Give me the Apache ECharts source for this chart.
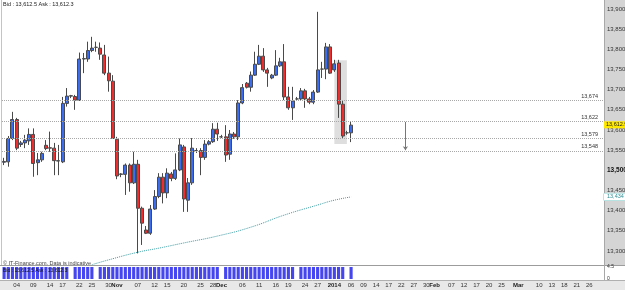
<!DOCTYPE html>
<html>
<head>
<meta charset="utf-8">
<script src="https://cdn.jsdelivr.net/npm/echarts@6/dist/echarts.min.js"></script>
<style>
  html, body { margin: 0; padding: 0; background: #fff; }
  #chart { width: 625px; height: 290px; }
</style>
</head>
<body>
<div id="chart"></div>
<script>
// trading slots: Sun-Fri until the last candle, weekdays after that
function buildDates() {
  const out = []
  const d = new Date(Date.UTC(2013, 9, 1))
  const end = Date.UTC(2014, 2, 31)
  const lastCandle = Date.UTC(2014, 0, 6)
  while (d.getTime() <= end) {
    const wd = d.getUTCDay()
    if (wd !== 6 && (wd !== 0 || d.getTime() <= lastCandle)) out.push(d.toISOString().slice(0, 10))
    d.setUTCDate(d.getUTCDate() + 1)
  }
  return out
}
const dates = buildDates()

// [open, close, low, high]
const candles = [
  [13520, 13522, 13513, 13531], [13521, 13579, 13509, 13585], [13579, 13626, 13575, 13645], [13626, 13555, 13550, 13630],
  [13564, 13568, 13558, 13573], [13568, 13575, 13555, 13588], [13573, 13589, 13563, 13604], [13589, 13517, 13484, 13604],
  [13519, 13526, 13488, 13543], [13526, 13542, 13521, 13546], [13562, 13554, 13550, 13575], [13556, 13555, 13546, 13596],
  [13555, 13524, 13488, 13568], [13523, 13524, 13488, 13563], [13521, 13666, 13518, 13682], [13666, 13684, 13658, 13704],
  [13684, 13685, 13679, 13687], [13683, 13674, 13650, 13687], [13674, 13776, 13672, 13792], [13776, 13777, 13741, 13791],
  [13776, 13797, 13769, 13819], [13797, 13803, 13793, 13831], [13805, 13805, 13794, 13819], [13803, 13788, 13774, 13817],
  [13786, 13741, 13736, 13811], [13741, 13722, 13695, 13782], [13721, 13579, 13578, 13736], [13577, 13486, 13478, 13583],
  [13490, 13491, 13483, 13493], [13490, 13513, 13439, 13517], [13513, 13469, 13447, 13517], [13469, 13515, 13466, 13546],
  [13515, 13406, 13294, 13526], [13406, 13369, 13315, 13410], [13352, 13344, 13342, 13362], [13344, 13404, 13340, 13414],
  [13404, 13435, 13402, 13451], [13435, 13483, 13431, 13493], [13483, 13444, 13418, 13493], [13444, 13493, 13431, 13505],
  [13491, 13480, 13473, 13496], [13480, 13501, 13476, 13542], [13501, 13563, 13498, 13579], [13558, 13429, 13397, 13563],
  [13426, 13469, 13397, 13481], [13469, 13555, 13464, 13580], [13549, 13549, 13543, 13555], [13549, 13532, 13488, 13555],
  [13532, 13565, 13526, 13575], [13565, 13571, 13562, 13575], [13571, 13602, 13568, 13617], [13602, 13590, 13573, 13618],
  [13583, 13583, 13580, 13588], [13583, 13538, 13521, 13612], [13540, 13590, 13526, 13600], [13590, 13583, 13578, 13595],
  [13583, 13667, 13575, 13674], [13667, 13705, 13664, 13714], [13716, 13706, 13703, 13719], [13706, 13736, 13695, 13745],
  [13736, 13763, 13734, 13794], [13763, 13783, 13761, 13811], [13783, 13749, 13744, 13803], [13749, 13741, 13707, 13754],
  [13729, 13736, 13726, 13739], [13736, 13759, 13734, 13798], [13759, 13769, 13756, 13779], [13769, 13682, 13674, 13813],
  [13682, 13655, 13650, 13707], [13655, 13672, 13625, 13707], [13677, 13677, 13672, 13682], [13677, 13697, 13674, 13704],
  [13697, 13677, 13655, 13702], [13677, 13669, 13664, 13682], [13669, 13694, 13664, 13699], [13694, 13749, 13692, 13893],
  [13751, 13751, 13729, 13769], [13751, 13806, 13726, 13816], [13806, 13741, 13739, 13813], [13749, 13764, 13744, 13774],
  [13766, 13664, 13630, 13774], [13664, 13585, 13580, 13674], [13593, 13593, 13588, 13598], [13593, 13612, 13570, 13620]
]

const volumes = [
  4.5, 4.5, 4.5, 4.5, 4.5, 4.5, 4.5, 4.5, 4.5, 4.5, 4.5, 4.5, 4.5, 4.5, 4.5, 4.5,
  0, 4.5, 4.5, 4.5, 4.5, 4.5, 0, 4.5, 4.5, 4.5, 4.5, 4.5, 4.5, 4.5, 4.5, 4.5,
  4.5, 4.5, 4.5, 4.5, 4.5, 4.5, 4.5, 4.5, 4.5, 4.5, 4.5, 4.5, 4.5, 4.5, 4.5, 4.5,
  4.5, 4.5, 4.5, 4.5, 0, 4.5, 4.5, 4.5, 4.5, 4.5, 4.5, 4.5, 4.5, 4.5, 4.5, 4.5,
  4.5, 4.5, 4.5, 4.5, 4.5, 4.5, 0, 4.5, 4.5, 4.5, 4.5, 4.5, 4.5, 4.5, 4.5, 4.5,
  4.5, 4.5, 0, 4.5
]

// long moving average (dotted teal)
const maDates = ['2013-10-25', '2013-10-30', '2013-11-07', '2013-11-13', '2013-11-20', '2013-11-29',
  '2013-12-09', '2013-12-18', '2013-12-27', '2014-01-01', '2014-01-06']
const maValues = [13266, 13278, 13297, 13307, 13320, 13337, 13359, 13389, 13414, 13426, 13434]

const levels = [13674, 13622, 13579, 13548]
const lastPrice = 13612.9
const maLast = 13434
const boxRange = ['2014-01-01', '2014-01-05', 13773, 13565]
const arrow = ['2014-01-23', 13620, 13550]

const tickDates = [
  '2013-10-04', '2013-10-09', '2013-10-14', '2013-10-17', '2013-10-22', '2013-10-25', '2013-10-30',
  '2013-11-01', '2013-11-07', '2013-11-12', '2013-11-15', '2013-11-20', '2013-11-25', '2013-11-28',
  '2013-12-01', '2013-12-06', '2013-12-11', '2013-12-16', '2013-12-19', '2013-12-24', '2013-12-27',
  '2014-01-01', '2014-01-06', '2014-01-09', '2014-01-14', '2014-01-17', '2014-01-22', '2014-01-27', '2014-01-30',
  '2014-02-03', '2014-02-07', '2014-02-12', '2014-02-17', '2014-02-20', '2014-02-25',
  '2014-03-03', '2014-03-10', '2014-03-13', '2014-03-18', '2014-03-21', '2014-03-26'
]
const tickTexts = [
  '04', '09', '14', '17', '22', '25', '30',
  'Nov', '07', '12', '15', '20', '25', '28',
  'Dec', '06', '11', '16', '19', '24', '27',
  '2014', '06', '09', '14', '17', '22', '27', '30',
  'Feb', '07', '12', '17', '20', '25',
  'Mar', '10', '13', '18', '21', '26'
]
const boldTicks = ['Nov', 'Dec', '2014', 'Feb', 'Mar']

const font = 'Liberation Sans'
const fmt = v => String(v).replace(/\B(?=(\d{3})+(?!\d))/g, ',')

const chart = echarts.init(document.getElementById('chart'))

chart.setOption({
  animation: false,
  backgroundColor: '#fff',
  textStyle: { fontFamily: font },
  grid: [
    { left: 2, right: 21, top: -11.17, height: 282.33, outerBoundsMode: 'none' },
    { left: 2, right: 21, top: 267, height: 12, outerBoundsMode: 'none' }
  ],
  xAxis: [
    { type: 'category', data: dates, gridIndex: 0, show: false },
    {
      type: 'category',
      data: dates,
      gridIndex: 1,
      axisLine: { show: false },
      axisTick: { show: false },
      axisLabel: {
        interval: (i, v) => tickDates.includes(v),
        formatter: v => {
          const t = tickTexts[tickDates.indexOf(v)]
          return boldTicks.includes(t) ? '{b|' + t + '}' : t
        },
        fontSize: 6,
        color: '#333',
        margin: 3,
        rich: { b: { fontSize: 6, fontWeight: 'bold', color: '#222' } }
      }
    }
  ],
  yAxis: [
    {
      type: 'value',
      gridIndex: 0,
      position: 'right',
      min: 13250,
      max: 13950,
      interval: 50,
      axisLine: { show: false },
      axisTick: { show: false },
      splitLine: { show: false },
      axisLabel: {
        showMinLabel: false,
        showMaxLabel: false,
        margin: 3,
        fontSize: 6,
        color: '#333',
        formatter: v => v === 13500 ? '{b|13,500}' : fmt(v),
        rich: { b: { fontSize: 6.5, fontWeight: 'bold', color: '#111' } }
      }
    },
    {
      type: 'value',
      gridIndex: 1,
      position: 'right',
      min: 0,
      max: 4.5,
      interval: 4.5,
      axisLine: { show: false },
      axisTick: { show: false },
      splitLine: { show: false },
      axisLabel: { margin: 3, fontSize: 5, color: '#333' }
    }
  ],
  graphic: [
    { type: 'rect', z: -10, shape: { x: 604, y: 0, width: 21, height: 265 }, style: { fill: '#d4d4d4' } },
    { type: 'rect', z: -10, shape: { x: 0, y: 280, width: 625, height: 10 }, style: { fill: '#e8e8e8' } },
    { type: 'line', shape: { x1: 0, y1: 265.5, x2: 625, y2: 265.5 }, style: { stroke: '#9c9c9c', lineWidth: 1 } },
    { type: 'line', shape: { x1: 0, y1: 280.5, x2: 625, y2: 280.5 }, style: { stroke: '#b0b0b0', lineWidth: 1 } },
    { type: 'line', shape: { x1: 604.5, y1: 0, x2: 604.5, y2: 280 }, style: { stroke: '#a8a8a8', lineWidth: 1 } },
    { type: 'line', shape: { x1: 1.5, y1: 0, x2: 1.5, y2: 265 }, style: { stroke: '#c4c4c4', lineWidth: 1 } },
    { type: 'text', left: 3, top: 1, style: { text: 'Bid : 13,612.5 Ask : 13,612.3', font: '5.5px ' + font, fill: '#222' } },
    { type: 'text', left: 3, top: 260, style: { text: '© IT-Finance.com. Data is indicative', font: '5.5px ' + font, fill: '#444' } },
    { type: 'text', left: 3, top: 268, z: 100, style: { text: 'Bid : 13,612.5 Ask : 13,612.3', font: '5px ' + font, fill: '#111' } }
  ],
  series: [
    {
      type: 'candlestick',
      xAxisIndex: 0,
      yAxisIndex: 0,
      data: candles,
      barWidth: 3.5,
      clip: false,
      itemStyle: {
        color: '#3a6cf4',
        color0: '#f22c2c',
        borderColor: '#4a4a4a',
        borderColor0: '#4a4a4a',
        borderWidth: 1
      },
      markArea: {
        silent: true,
        itemStyle: { color: 'rgba(160,160,160,0.35)' },
        data: [[{ xAxis: boxRange[0], yAxis: boxRange[2] }, { xAxis: boxRange[1], yAxis: boxRange[3] }]]
      },
      markLine: {
        silent: true,
        symbol: 'none',
        data: levels.map(v => ({
          yAxis: v,
          lineStyle: { type: 'dotted', color: '#a8a8a8', width: 1 },
          label: {
            position: 'insideEndTop',
            distance: [6, 1],
            formatter: fmt(v),
            fontSize: 5.5,
            color: '#333'
          }
        })).concat([
          {
            yAxis: lastPrice,
            lineStyle: { color: 'rgba(0,0,0,0)', width: 1 },
            label: {
              show: true,
              position: 'end',
              distance: 0,
              formatter: fmt(lastPrice),
              fontSize: 5.5,
              color: '#222',
              backgroundColor: '#ffe800',
              padding: [1, 1, 0, 2]
            }
          },
          {
            yAxis: maLast,
            lineStyle: { color: 'rgba(0,0,0,0)', width: 1 },
            label: {
              show: true,
              position: 'end',
              distance: 0,
              formatter: fmt(maLast),
              fontSize: 5.5,
              color: '#2f8f96',
              backgroundColor: '#fff',
              borderColor: '#7cc',
              borderWidth: 0.5,
              padding: [1, 4, 0, 3]
            }
          },
          [
            { coord: [arrow[0], arrow[1]], symbol: 'none' },
            { coord: [arrow[0], arrow[2]], symbol: 'arrow', symbolSize: 4, lineStyle: { type: 'solid', color: '#777', width: 1 }, label: { show: false } }
          ]
        ])
      }
    },
    {
      type: 'line',
      xAxisIndex: 0,
      yAxisIndex: 0,
      data: maDates.map((d, i) => [d, maValues[i]]),
      smooth: true,
      symbol: 'none',
      lineStyle: { type: 'dotted', color: '#3c9ca3', width: 1 }
    },
    {
      type: 'bar',
      xAxisIndex: 1,
      yAxisIndex: 1,
      data: volumes,
      barCategoryGap: '25%',
      itemStyle: { color: '#4646f0' }
    }
  ]
})

window.addEventListener('resize', function() {
  chart.resize()
})
</script>
</body>
</html>
